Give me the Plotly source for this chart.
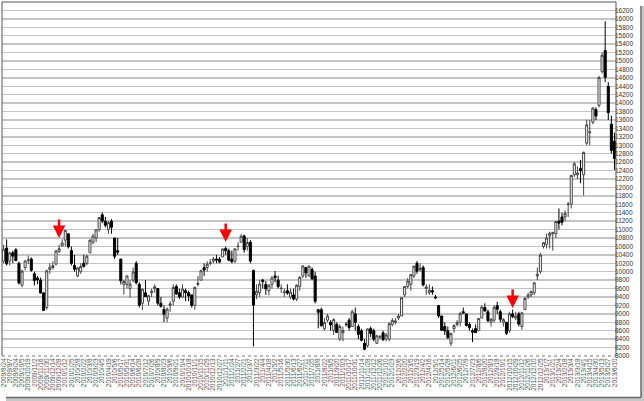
import plotly.graph_objects as go

dates = [
 "2009/8/24","2009/8/31","2009/9/7","2009/9/14","2009/9/24","2009/9/28","2009/10/5","2009/10/13","2009/10/19","2009/10/26",
 "2009/11/2","2009/11/9","2009/11/16","2009/11/24","2009/11/30","2009/12/7","2009/12/14","2009/12/21","2009/12/28",
 "2010/1/4","2010/1/12","2010/1/18","2010/1/25","2010/2/1","2010/2/8","2010/2/15","2010/2/22","2010/3/1","2010/3/8",
 "2010/3/15","2010/3/23","2010/3/29","2010/4/5","2010/4/12","2010/4/19","2010/4/26","2010/5/6","2010/5/10","2010/5/17",
 "2010/5/24","2010/5/31","2010/6/7","2010/6/14","2010/6/21","2010/6/28","2010/7/5","2010/7/12","2010/7/20","2010/7/26",
 "2010/8/2","2010/8/9","2010/8/16","2010/8/23","2010/8/30","2010/9/6","2010/9/13","2010/9/21","2010/9/27","2010/10/4",
 "2010/10/12","2010/10/18","2010/10/25","2010/11/1","2010/11/8","2010/11/15","2010/11/22","2010/11/29","2010/12/6",
 "2010/12/13","2010/12/20","2010/12/27",
 "2011/1/4","2011/1/11","2011/1/17","2011/1/24","2011/1/31","2011/2/7","2011/2/14","2011/2/21","2011/2/28","2011/3/7",
 "2011/3/14","2011/3/22","2011/3/28","2011/4/4","2011/4/11","2011/4/18","2011/4/25","2011/5/2","2011/5/9","2011/5/16",
 "2011/5/23","2011/5/30","2011/6/6","2011/6/13","2011/6/20","2011/6/27","2011/7/4","2011/7/11","2011/7/19","2011/7/25",
 "2011/8/1","2011/8/8","2011/8/15","2011/8/22","2011/8/29","2011/9/5","2011/9/12","2011/9/20","2011/9/26","2011/10/3",
 "2011/10/11","2011/10/17","2011/10/24","2011/10/31","2011/11/7","2011/11/14","2011/11/21","2011/11/28","2011/12/5",
 "2011/12/12","2011/12/19","2011/12/26",
 "2012/1/4","2012/1/10","2012/1/16","2012/1/23","2012/1/30","2012/2/6","2012/2/13","2012/2/20","2012/2/27","2012/3/5",
 "2012/3/12","2012/3/19","2012/3/26","2012/4/2","2012/4/9","2012/4/16","2012/4/23","2012/5/1","2012/5/7","2012/5/14",
 "2012/5/21","2012/5/28","2012/6/4","2012/6/11","2012/6/18","2012/6/25","2012/7/2","2012/7/9","2012/7/17","2012/7/23",
 "2012/7/30","2012/8/6","2012/8/13","2012/8/20","2012/8/27","2012/9/3","2012/9/10","2012/9/18","2012/9/24","2012/10/1",
 "2012/10/9","2012/10/15","2012/10/22","2012/10/29","2012/11/5","2012/11/12","2012/11/19","2012/11/26","2012/12/3",
 "2012/12/10","2012/12/17","2012/12/25",
 "2013/1/4","2013/1/7","2013/1/15","2013/1/21","2013/1/28","2013/2/4","2013/2/12","2013/2/18","2013/2/25","2013/3/4",
 "2013/3/11","2013/3/18","2013/3/25","2013/4/1","2013/4/8","2013/4/15","2013/4/22","2013/4/30","2013/5/7","2013/5/13",
 "2013/5/20","2013/5/27","2013/6/3","2013/6/10"]

opens = [
 10250,10560,10250,10450,10520,10200,9680,10100,10270,10300,
 9950,9850,9800,9500,9150,10050,10100,10180,10480,
 10609,10750,10900,10500,10150,9900,10000,10200,10200,10450,
 10700,10800,11000,11350,11200,11000,11200,10800,10500,10300,
 9700,9700,9600,9800,10200,9700,9250,9500,9300,9500,
 9600,9600,9250,9100,8900,9200,9300,9650,9500,9400,
 9550,9500,9450,9200,9700,9800,10100,10100,10200,
 10250,10300,10300,
 10350,10550,10500,10300,10250,10600,10700,10850,10600,10700,
 10030,9450,9500,9800,9700,9550,9700,9900,9800,9600,
 9500,9550,9400,9450,9350,9650,9900,10100,9900,10050,
 9900,9100,9100,8650,8850,8800,8600,8750,8400,8550,
 8750,8850,8700,9000,8700,8600,8300,8250,8650,
 8600,8300,8450,
 8550,8400,8400,8750,8800,8900,8950,9450,9650,9700,
 9900,10200,10050,10100,9600,9500,9550,9400,9200,8950,
 8700,8600,8300,8650,8750,8800,9050,9000,8750,8600,
 8650,8600,8900,9150,9050,8800,8850,9200,9050,8800,
 8800,8600,9000,8900,9000,8700,9100,9400,9450,
 9500,9900,10000,
 10600,10650,10850,10900,10900,11200,11300,11300,11600,11600,
 12300,12300,12450,12300,13050,13300,13550,13850,13950,14750,
 15250,14400,13500,13100]

highs = [
 10640,10767,10480,10500,10560,10240,10050,10260,10380,10340,
 10000,9900,9860,9500,10050,10200,10250,10500,10638,
 10768,10982,10900,10600,10400,10100,10200,10400,10400,10760,
 10900,11000,11300,11408,11300,11200,11250,10800,10800,10300,
 9800,9900,9800,10100,10250,9750,9600,9800,9450,9600,
 9700,9600,9400,9200,9150,9300,9700,9700,9600,9700,
 9600,9550,9450,9650,9900,10050,10200,10250,10300,
 10350,10400,10350,
 10550,10600,10550,10500,10550,10700,10891,10880,10800,10750,
 10050,9700,9800,9830,9780,9700,9900,10017,9900,9700,
 9600,9700,9600,9600,9700,9900,10150,10100,10150,10100,
 10000,9100,9150,8900,9000,8850,8900,8800,8750,8700,
 8800,8900,9100,9150,8750,8650,8400,8650,8700,
 8650,8500,8500,
 8600,8550,8800,8900,8900,9000,9400,9650,9850,9950,
 10150,10255,10200,10150,9700,9700,9650,9450,9200,8950,
 8800,8700,8550,8750,8850,9050,9150,9000,8800,8650,
 8750,8900,9200,9250,9100,8900,9200,9288,9100,8900,
 8800,9050,9100,9050,9050,9050,9400,9500,9550,
 9750,10100,10450,
 10700,10900,10950,10950,11200,11500,11400,11450,11650,12300,
 12600,12500,12650,12850,13600,13600,13900,13900,14650,15200,
 15942,14500,13700,13300]

lows = [
 10200,10150,10150,10200,10250,9700,9628,10030,10180,10000,
 9670,9700,9480,9076,9100,9950,10050,10150,10450,
 10600,10600,10550,10150,10000,9867,9950,10100,10150,10450,
 10650,10700,10950,11150,11050,10900,10900,10300,10400,9700,
 9459,9600,9380,9750,9700,9150,9090,9400,9200,9400,
 9500,9200,9150,8807,8800,9050,9200,9450,9350,9380,
 9300,9300,9150,9100,9650,9800,9900,10000,10150,
 10200,10200,10200,
 10350,10400,10250,10200,10200,10500,10700,10450,10500,10200,
 8227,9350,9400,9600,9450,9440,9600,9750,9600,9500,
 9400,9450,9350,9318,9300,9550,9850,9850,9880,9800,
 9250,8656,8700,8600,8800,8600,8500,8550,8359,8350,
 8700,8600,8700,8600,8400,8350,8135,8200,8450,
 8350,8300,8400,
 8350,8350,8350,8700,8750,8850,8950,9400,9600,9550,
 9850,9950,10000,9650,9450,9450,9450,9350,8900,8600,
 8500,8400,8238,8550,8700,8700,9000,8700,8600,8328,
 8550,8600,8900,9050,8800,8700,8800,9000,8800,8700,
 8500,8550,8900,8850,8700,8620,9100,9350,9400,
 9450,9800,9950,
 10550,10550,10550,10500,10800,11000,11100,11200,11300,11500,
 12250,12200,12100,11805,13000,13000,13500,13600,13900,14700,
 14500,13600,12800,12415]

closes = [
 10534,10187,10444,10370,10265,9731,10016,10257,10282,10034,
 9789,9804,9497,9081,10022,10107,10142,10494,10546,
 10681,10982,10590,10198,10057,10092,10123,10126,10368,10751,
 10846,10996,11286,11204,11102,11165,11057,10364,10462,9784,
 9768,9901,9705,9995,9737,9203,9585,9408,9431,9537,
 9642,9253,9179,8991,9114,9239,9626,9471,9404,9588,
 9500,9426,9202,9625,9724,10022,10039,10178,10211,
 10303,10279,10228,
 10541,10499,10274,10237,10543,10605,10842,10526,10693,10254,
 9207,9536,9708,9768,9591,9682,9850,9859,9648,9607,
 9521,9492,9514,9351,9678,9868,10137,9974,10132,9833,
 9299,9038,8719,8797,8950,8737,8864,8560,8700,8605,
 8747,8678,9050,8801,8514,8374,8160,8643,8536,
 8401,8479,8455,
 8390,8500,8766,8841,8831,8947,9384,9647,9777,9930,
 10129,10011,10083,9688,9637,9561,9520,9380,8953,8611,
 8593,8440,8536,8721,8798,9006,9020,8724,8669,8566,
 8555,8891,9162,9070,8839,8871,9159,9110,8870,8863,
 8534,9002,8933,8946,8757,9024,9366,9446,9527,
 9737,9940,10395,
 10688,10801,10913,10926,11191,11153,11173,11385,11606,12283,
 12560,12338,12397,12833,13485,13316,13884,13694,14607,15138,
 14612,13774,12877,12686]

y_ticks = list(range(8000, 16401, 200))
y_labels = [str(v) for v in y_ticks]
tick_dates = dates[::2]

arrow_dates = ["2009/12/28", "2011/1/11", "2012/10/22"]
arrow_values = [10800, 10705, 9140]

fig = go.Figure()
fig.add_trace(go.Candlestick(
    x=dates, open=opens, high=highs, low=lows, close=closes,
    increasing=dict(fillcolor="white", line=dict(color="#444444", width=1)),
    decreasing=dict(fillcolor="black", line=dict(color="black", width=1)),
    whiskerwidth=0, showlegend=False, hoverinfo="skip"))

for d, v in zip(arrow_dates, arrow_values):
    fig.add_annotation(x=d, y=v, xref="x", yref="y", text="", showarrow=True,
                       ax=0, ay=-20, arrowcolor="#ff0000", arrowwidth=2.5,
                       arrowhead=2, arrowsize=1)

# plot frame
frame = dict(color="#555555", width=1)
fig.add_shape(type="line", xref="paper", yref="paper", x0=0, x1=0, y0=0, y1=1, line=frame)
fig.add_shape(type="line", xref="paper", yref="paper", x0=1, x1=1, y0=0, y1=1, line=frame)
fig.add_shape(type="line", xref="paper", yref="paper", x0=0, x1=1, y0=1, y1=1, line=frame)
fig.add_shape(type="line", xref="paper", yref="paper", x0=0, x1=1, y0=0, y1=0,
              line=dict(color="#777777", width=1, dash="dot"))

# drop shadow of the picture (right and bottom edges)
W, H = 644, 401
L, R, T, B = 2, 28, 2, 45
pw, ph = W - L - R, H - T - B
def px(x):
    return (x - L) / pw
def py(y):
    return (H - B - y) / ph
fig.add_shape(type="rect", xref="paper", yref="paper", x0=px(641), x1=px(644), y0=py(6), y1=py(401),
              line=dict(width=0), fillcolor="#c8c8c8", layer="above")
fig.add_shape(type="rect", xref="paper", yref="paper", x0=px(6), x1=px(644), y0=py(397.5), y1=py(401),
              line=dict(width=0), fillcolor="#c8c8c8", layer="above")
fig.add_shape(type="line", xref="paper", yref="paper", x0=px(641), x1=px(641), y0=py(6), y1=py(397.5),
              line=dict(color="#6a6a6a", width=1.5), layer="above")
fig.add_shape(type="line", xref="paper", yref="paper", x0=px(6), x1=px(641), y0=py(397.5), y1=py(397.5),
              line=dict(color="#6a6a6a", width=1.5), layer="above")

fig.update_layout(
    width=W, height=H,
    margin=dict(l=L, r=R, t=T, b=B, autoexpand=False),
    paper_bgcolor="white", plot_bgcolor="white",
    boxgap=0.05,
    font=dict(family="Liberation Sans, Arial, sans-serif", color="#333333"),
    xaxis=dict(type="category", rangeslider=dict(visible=False), automargin=False,
               tickmode="array", tickvals=tick_dates, ticktext=tick_dates,
               tickangle=-90, tickfont=dict(size=6.5, color="#555555"),
               showgrid=False, ticks="", showline=False, zeroline=False),
    yaxis=dict(side="right", range=[8000, 16400], tickmode="array", automargin=False,
               tickvals=y_ticks, ticktext=y_labels,
               tickfont=dict(size=6.5, color="#333333"),
               ticklabelstandoff=-2,
               showgrid=True, gridcolor="#c4c4c4", gridwidth=1.3,
               ticks="", showline=False, zeroline=False),
)

fig.write_html("out.html", config={"displayModeBar": False, "staticPlot": True},
               post_script="document.body.style.margin='0';document.body.style.overflow='hidden';")
